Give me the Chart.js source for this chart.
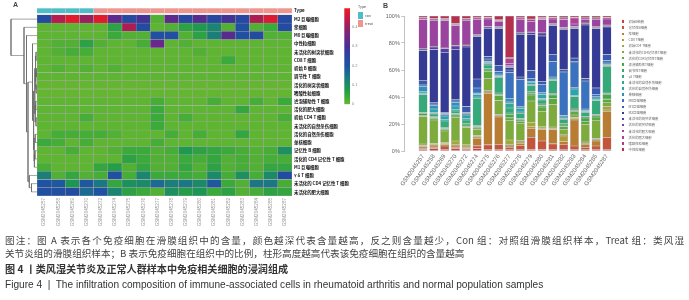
<!DOCTYPE html>
<html><head><meta charset="utf-8">
<script src="https://cdn.jsdelivr.net/npm/chart.js@4.4.1/dist/chart.umd.min.js"></script>
<style>
html,body{margin:0;padding:0;background:#fff;}
body{width:689px;height:300px;position:relative;overflow:hidden;font-family:"Noto Sans CJK SC","Noto Sans",sans-serif;}
canvas{position:absolute;}
.t{position:absolute;white-space:nowrap;}
</style></head><body>
<canvas id="heat" style="left:0;top:0" width="372" height="236"></canvas>
<canvas id="dendro" style="left:0;top:0" width="40" height="236"></canvas>
<canvas id="cbar" style="left:335px;top:0" width="30" height="120"></canvas>
<canvas id="bars" style="left:370px;top:0" width="260" height="236"></canvas>
<div id="legB"></div>
<div class="t" style="left:13px;top:1px;font:bold 7px 'Liberation Sans';color:#444">A</div>
<div class="t" style="left:383px;top:2px;font:bold 7px 'Liberation Sans';color:#444">B</div>
<div class="t" style="left:358px;top:4px;font-size:3.6px;color:#555">Type</div>
<div class="t" style="left:357.7px;top:12.3px;width:5.6px;height:6.7px;background:#4bbfc9"></div>
<div class="t" style="left:357.7px;top:20px;width:5.6px;height:6.7px;background:#f0958d"></div>
<div class="t" style="left:365px;top:13px;font-size:3.6px;color:#555">con</div>
<div class="t" style="left:365px;top:20.8px;font-size:3.6px;color:#555">treat</div>
<div class="t" style="left:5px;top:234px;width:679px;font-size:9.6px;line-height:13px;color:#444;white-space:normal;text-align:justify;text-align-last:justify">图注：图 A 表示各个免疫细胞在滑膜组织中的含量，颜色越深代表含量越高，反之则含量越少，Con 组：对照组滑膜组织样本，Treat 组：类风湿</div>
<div class="t" style="left:5px;top:247px;font-size:9.6px;line-height:13px;color:#444">关节炎组的滑膜组织样本；B 表示免疫细胞在组织中的比例，柱形高度越高代表该免疫细胞在组织的含量越高</div>
<div class="t" style="left:5px;top:262px;font-size:10.1px;line-height:13px;color:#333;font-weight:bold">图 4 丨类风湿关节炎及正常人群样本中免疫相关细胞的浸润组成</div>
<div class="t" style="left:5px;top:278px;font:10.1px 'Liberation Sans';line-height:13px;color:#333">Figure 4 &nbsp;|&nbsp; The infiltration composition of immune-associated cells in rheumatoid arthritis and normal population samples</div>
<script>
// ---------------- data ----------------
const samples = ['GSM2045257','GSM2045258','GSM2045269','GSM2045270','GSM2045272','GSM2045274','GSM2045275','GSM2045276','GSM2045277','GSM2045278','GSM2045279','GSM2045280','GSM2045281','GSM2045282','GSM2045283','GSM2045284','GSM2045285','GSM2045287'];
const groups = ['con','con','con','con','treat','treat','treat','treat','treat','treat','treat','treat','treat','treat','treat','treat','treat','treat'];

// immune cell fractions per sample (legend order)
const naiveB     = [0.01,0.02,0.01,0.02,0.01,0.02,0.01,0.01,0.01,0.01,0.01,0.01,0.01,0.01,0.01,0.01,0.01,0.01];
const memoryB    = [0.01,0.01,0.03,0.01,0.01,0.02,0.04,0.04,0.02,0.03,0.08,0.06,0.05,0.04,0.03,0.02,0.03,0.10];
const plasma     = [0.01,0.01,0.01,0.01,0.01,0.06,0.42,0.22,0.01,0.02,0.06,0.08,0.12,0.02,0.21,0.02,0.04,0.22];
const cd8T       = [0.01,0.01,0.01,0.01,0.01,0.01,0.01,0.01,0.01,0.01,0.01,0.01,0.01,0.04,0.01,0.01,0.01,0.01];
const naiveCD4   = [0.01,0.01,0.01,0.03,0.01,0.01,0.01,0.01,0.04,0.01,0.03,0.01,0.01,0.01,0.01,0.01,0.01,0.03];
const restCD4mem = [0.20,0.19,0.09,0.19,0.14,0.05,0.10,0.11,0.16,0.13,0.14,0.11,0.19,0.04,0.02,0.14,0.14,0.03];
const actCD4mem  = [0.01,0.01,0.01,0.01,0.01,0.01,0.06,0.04,0.02,0.02,0.04,0.03,0.05,0.02,0.03,0.02,0.03,0.03];
const tfh        = [0.01,0.01,0.01,0.01,0.01,0.01,0.01,0.01,0.03,0.01,0.01,0.01,0.03,0.01,0.01,0.03,0.01,0.04];
const treg       = [0.01,0.01,0.01,0.01,0.01,0.01,0.01,0.01,0.01,0.01,0.01,0.01,0.01,0.01,0.01,0.01,0.01,0.01];
const gdT        = [0.13,0.02,0.05,0.02,0.03,0.21,0.03,0.12,0.04,0.04,0.04,0.03,0.11,0.03,0.10,0.03,0.11,0.22];
const restNK     = [0.01,0.01,0.01,0.01,0.01,0.01,0.01,0.01,0.04,0.01,0.01,0.01,0.01,0.01,0.01,0.01,0.01,0.01];
const actNK      = [0.01,0.03,0.03,0.03,0.03,0.02,0.01,0.01,0.01,0.03,0.01,0.03,0.01,0.01,0.05,0.01,0.01,0.01];
const mono       = [0.04,0.03,0.01,0.03,0.01,0.01,0.01,0.01,0.03,0.01,0.01,0.01,0.01,0.01,0.01,0.01,0.01,0.01];
const m0         = [0.01,0.01,0.01,0.01,0.01,0.04,0.02,0.02,0.21,0.21,0.02,0.06,0.13,0.32,0.21,0.22,0.02,0.02];
const m1         = [0.03,0.01,0.01,0.01,0.05,0.07,0.02,0.05,0.02,0.02,0.05,0.02,0.06,0.02,0.03,0.02,0.05,0.05];
const m2         = [0.22,0.43,0.48,0.40,0.48,0.33,0.23,0.29,0.02,0.33,0.24,0.32,0.24,0.29,0.24,0.42,0.47,0.23];
const restDC     = [0.01,0.02,0.03,0.03,0.01,0.01,0.01,0.01,0.01,0.01,0.01,0.02,0.01,0.01,0.01,0.01,0.01,0.01];
const actDC      = [0.005,0.005,0.005,0.005,0.005,0.005,0.005,0.005,0.005,0.005,0.005,0.005,0.005,0.005,0.005,0.005,0.005,0.005];
const restMast   = [0.21,0.21,0.22,0.16,0.20,0.12,0.06,0.04,0.02,0.10,0.07,0.09,0.04,0.06,0.02,0.03,0.06,0.05];
const actMast    = [0.01,0.01,0.01,0.01,0.01,0.01,0.01,0.01,0.04,0.01,0.01,0.01,0.01,0.01,0.05,0.01,0.01,0.01];
const eos        = [0.005,0.005,0.005,0.005,0.005,0.005,0.005,0.005,0.005,0.005,0.005,0.005,0.005,0.005,0.005,0.005,0.005,0.005];
const neut       = [0.01,0.02,0.02,0.06,0.02,0.01,0.01,0.03,0.34,0.01,0.02,0.01,0.01,0.01,0.01,0.01,0.01,0.01];

const cellValues = [naiveB,memoryB,plasma,cd8T,naiveCD4,restCD4mem,actCD4mem,tfh,treg,gdT,restNK,actNK,mono,m0,m1,m2,restDC,actDC,restMast,actMast,eos,neut];
const cellNames = ['初始B细胞','记忆性B细胞','浆细胞','CD8 T细胞','初始CD4 T细胞','未活化的CD4记忆性T细胞','活化的CD4记忆性T细胞','滤泡辅助性T细胞','调节性T细胞','γδ T细胞','未活化的自然杀伤细胞','活化的自然杀伤细胞','单核细胞','M0巨噬细胞','M1巨噬细胞','M2巨噬细胞','未活化的树突状细胞','活化的树突状细胞','未活化的肥大细胞','活化的肥大细胞','嗜酸性粒细胞','中性粒细胞'];
const cellColors = ['#c8423f','#c4553a','#b97c33','#b39a35','#a0a838','#7dab3c','#5fa83f','#45a848','#3aa860','#35a97a','#2fa898','#2aa5b0','#2f8fc0','#3a72bf','#3a58b0','#353a95','#5a3ea8','#7a40a8','#9a44a0','#b04098','#b83a7c','#b5304f'];

// heatmap rows (top to bottom), clustered order
const heatRowOrder = [15,2,13,21,16,3,0,8,17,20,7,19,4,10,11,12,1,6,14,9,5,18];
const heatRowLabels = ['M2 巨噬细胞','浆细胞','M0 巨噬细胞','中性粒细胞','未活化的树突状细胞','CD8 T 细胞','初始 B 细胞','调节性 T 细胞','活化的树突状细胞','嗜酸性粒细胞','滤泡辅助性 T 细胞','活化的肥大细胞','初始 CD4 T 细胞','未活化的自然杀伤细胞','活化的自然杀伤细胞','单核细胞','记忆性 B 细胞','活化的 CD4 记忆性 T 细胞','M1 巨噬细胞','γ δ T 细胞','未活化的 CD4 记忆性 T 细胞','未活化的肥大细胞'];
// row dendrogram merges: [left, right, height]; negative = leaf row (1-based), positive = earlier merge
const dendroMerges = [[-7,-8,0.6],[-9,-10,0.8],[1,2,1.2],[-5,-6,1.0],[4,3,1.6],[-13,-14,1.0],[-11,-12,1.3],[7,6,1.8],[5,8,2.2],[-15,-16,1.8],[-17,-18,2.0],[11,-19,2.6],[10,12,3.0],[9,13,3.4],[-4,14,4.5],[-21,-22,5.5],[-20,16,7.7],[15,17,9.0],[-3,18,10.5],[-2,19,13],[-1,20,26]];

const typeColors = {con:'#4bbfc9', treat:'#f0958d'};
const rampStops = [[0,'#6ab82e'],[0.04,'#3aaa3a'],[0.08,'#1e9a4e'],[0.12,'#1a8570'],[0.16,'#1c6a92'],[0.2,'#1f52a2'],[0.25,'#2a44a0'],[0.3,'#4a2e92'],[0.35,'#6e2888'],[0.4,'#9a2060'],[0.45,'#c81a40'],[0.495,'#ee1c25']];
const rampMax = 0.495;
const cbTicks = [0,0.1,0.2,0.3,0.4];
const cbTickLabels = ['0','0.1','0.2','0.3','0.4'];
const pctTicks = [0,20,40,60,80,100];
const pctTickLabels = ['0%','20%','40%','60%','80%','100%'];

// ---------------- helpers ----------------
function hex(c){return [parseInt(c.slice(1,3),16),parseInt(c.slice(3,5),16),parseInt(c.slice(5,7),16)];}
function ramp(v){
  v=Math.max(0,Math.min(rampMax,v));
  for(let i=1;i<rampStops.length;i++){
    if(v<=rampStops[i][0]){
      const [a,ca]=rampStops[i-1],[b,cb]=rampStops[i];
      const t=(v-a)/(b-a), A=hex(ca), B=hex(cb);
      return 'rgb('+A.map((x,k)=>Math.round(x+(B[k]-x)*t)).join(',')+')';
    }
  }
  return rampStops[rampStops.length-1][1];
}
Chart.defaults.font.family = '"Noto Sans CJK SC","Noto Sans",sans-serif';
const base = {responsive:false, animation:false, events:[], plugins:{legend:{display:false}, tooltip:{enabled:false}}};

// ---------------- heatmap ----------------
const GAP = 0.207, TYPEH = 0.61, NR = heatRowOrder.length;
const heatDs = [];
for(let i=NR-1;i>=0;i--){
  const vals = cellValues[heatRowOrder[i]];
  heatDs.push({data: samples.map(()=>1), backgroundColor: vals.map(ramp), borderColor:'#a6a6a6', borderWidth:0.5, borderSkipped:false, barPercentage:1, categoryPercentage:1});
}
heatDs.push({data: samples.map(()=>GAP), backgroundColor:'rgba(0,0,0,0)', borderWidth:0, barPercentage:1, categoryPercentage:1});
heatDs.push({data: samples.map(()=>TYPEH), backgroundColor: groups.map(g=>typeColors[g]), borderColor:'#dcdcdc', borderWidth:0.4, borderSkipped:false, barPercentage:1, categoryPercentage:1});
const heatTickVals = [], heatTickLabels = [];
for(let i=NR-1;i>=0;i--){ heatTickVals.push(NR-i-0.5); heatTickLabels.push(heatRowLabels[i]); }
heatTickVals.push(NR+GAP+TYPEH/2); heatTickLabels.push('Type');

new Chart(document.getElementById('heat'), {
  type:'bar',
  data:{labels:samples, datasets:heatDs},
  options:Object.assign({}, base, {
    layout:{padding:{left:37, top:8.2, right:0, bottom:0}},
    scales:{
      x:{stacked:true, grid:{display:false, drawTicks:false}, border:{display:false},
         ticks:{autoSkip:false, minRotation:90, maxRotation:90, font:{size:4.6, family:'Liberation Sans'}, color:'#999', padding:2},
         afterFit:(s)=>{s.height=40;}},
      y:{stacked:true, position:'right', min:0, max:NR+GAP+TYPEH, grid:{display:false, drawTicks:false}, border:{display:false},
         afterBuildTicks:(s)=>{s.ticks=heatTickVals.map(v=>({value:v}));},
         ticks:{autoSkip:false, font:{size:4.4, weight:'bold'}, color:'#111', padding:2, callback:(v,i)=>heatTickLabels[i]},
         afterFit:(s)=>{s.width=80;}}
    }
  })
});

// ---------------- dendrogram ----------------
const nodePos = [];
function pos(id){ return id<0 ? {h:0, y:(-id-1)+0.5} : nodePos[id-1]; }
const dendroSets = [];
dendroMerges.forEach(([a,b,h])=>{
  const A=pos(a), B=pos(b);
  nodePos.push({h:h, y:(A.y+B.y)/2});
  dendroSets.push({data:[{x:A.h,y:A.y},{x:h,y:A.y},{x:h,y:B.y},{x:B.h,y:B.y}], showLine:true, borderColor:'#666', borderWidth:0.6, pointRadius:0, fill:false, clip:2});
});
new Chart(document.getElementById('dendro'), {
  type:'scatter',
  data:{datasets:dendroSets},
  options:Object.assign({}, base, {
    layout:{padding:{left:10.5, right:3, top:15, bottom:40}},
    scales:{x:{type:'linear', display:false, min:0, max:26.5, reverse:true},
            y:{type:'linear', display:false, min:0, max:NR, reverse:true}}
  })
});

// ---------------- colour bar ----------------
new Chart(document.getElementById('cbar'), {
  type:'bar',
  data:{labels:[''], datasets:[{data:[rampMax], borderWidth:0, barPercentage:1, categoryPercentage:1,
    backgroundColor:(ctx)=>{
      const ch=ctx.chart, ys=ch.scales.y;
      if(!ch.chartArea||!ys) return '#6ab82e';
      const y0=ys.getPixelForValue(0), y1=ys.getPixelForValue(rampMax);
      const g=ch.ctx.createLinearGradient(0,y0,0,y1);
      rampStops.forEach(([v,c])=>g.addColorStop(v/rampMax,c));
      return g;
    }}]},
  options:Object.assign({}, base, {
    layout:{padding:{left:9.3, top:8.3, right:0, bottom:15.7}},
    scales:{
      x:{display:false},
      y:{position:'right', min:0, max:rampMax, grid:{display:false, drawTicks:false}, border:{display:false},
         afterBuildTicks:(s)=>{s.ticks=cbTicks.map(v=>({value:v}));},
         ticks:{font:{size:4, family:'Liberation Sans'}, color:'#888', padding:2, callback:(v,i)=>cbTickLabels[i]},
         afterFit:(s)=>{s.width=15;}}
    }
  })
});

// ---------------- stacked percentage bars ----------------
const colSum = samples.map((s,j)=>cellValues.reduce((t,arr)=>t+arr[j],0));
const barDs = cellValues.map((arr,k)=>({
  label:cellNames[k],
  data:arr.map((v,j)=>({x:j, y:v/colSum[j]*100})),
  backgroundColor:cellColors[k], borderColor:'rgba(35,35,35,0.7)', borderWidth:0.3, borderSkipped:false,
  barPercentage:0.81, categoryPercentage:1
}));
new Chart(document.getElementById('bars'), {
  type:'bar',
  data:{datasets:barDs},
  options:Object.assign({}, base, {
    layout:{padding:{left:0, top:16, right:10.6, bottom:0}},
    scales:{
      x:{type:'linear', stacked:true, min:-1.18, max:17.6, grid:{display:false, drawTicks:false}, border:{display:false},
         afterBuildTicks:(s)=>{s.ticks=samples.map((_,j)=>({value:j}));},
         ticks:{autoSkip:false, minRotation:55, maxRotation:55, font:{size:6, family:'Liberation Sans'}, color:'#666', padding:2, callback:(v,i)=>samples[i]},
         afterFit:(s)=>{s.height=85;}},
      y:{stacked:true, min:0, max:100,
         grid:{display:true, drawOnChartArea:false, drawTicks:true, tickLength:3, color:'#999', lineWidth:0.6},
         border:{display:true, color:'#999', width:0.6},
         afterBuildTicks:(s)=>{s.ticks=pctTicks.map(v=>({value:v}));},
         ticks:{font:{size:5.5, family:'Liberation Sans'}, color:'#666', padding:1.5, callback:(v,i)=>pctTickLabels[i]},
         afterFit:(s)=>{s.width=34.3;}}
    }
  })
});

// legend for B
const leg = document.getElementById('legB');
cellNames.forEach((n,k)=>{
  const cy = 21.7 + 6.08*k;
  const sq = document.createElement('div');
  sq.className='t'; sq.style.cssText='left:621.6px;top:'+(cy-1.3)+'px;width:2.6px;height:2.6px;background:'+cellColors[k];
  const tx = document.createElement('div');
  tx.className='t'; tx.textContent=n; tx.style.cssText='left:628.6px;top:'+(cy-2.6)+'px;font-size:3.3px;line-height:5px;color:#666';
  leg.appendChild(sq); leg.appendChild(tx);
});
</script>
</body></html>
